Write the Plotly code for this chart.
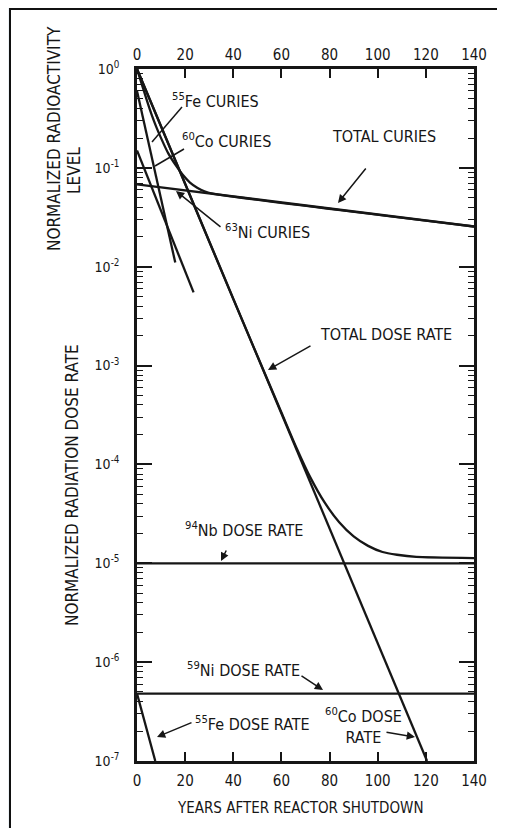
import plotly.graph_objects as go

# ---- data (years after shutdown, normalized level) ----
years_fe55_curies = [0, 15.9]
fe55_curies = [0.6, 0.011]

years_co60_curies = [0, 23.5]
co60_curies = [0.15, 0.0055]

years_ni63_curies = [0, 140]
ni63_curies = [0.068, 0.0255]

years_total_curies = [0, 2, 4, 6, 8, 10, 13, 16, 19, 22, 25, 28, 32, 140]
total_curies = [1.0, 0.70, 0.49, 0.35, 0.26, 0.20, 0.14, 0.107, 0.085, 0.071, 0.063, 0.058, 0.0545, 0.0255]

years_co60_dose = [0, 120.5]
co60_dose = [1.0, 1e-7]

years_total_dose = [0, 20, 40, 60, 66, 72, 78, 84, 90, 96, 102, 108, 116, 140]
total_dose = [1.0, 0.069, 4.7e-3, 3.35e-4, 1.52e-4, 7.4e-5, 4.1e-5, 2.6e-5, 1.87e-5,
              1.5e-5, 1.3e-5, 1.22e-5, 1.16e-5, 1.13e-5]

years_nb94_dose = [0, 140]
nb94_dose = [1.0e-5, 1.0e-5]

years_ni59_dose = [0, 140]
ni59_dose = [4.8e-7, 4.8e-7]

years_fe55_dose = [0, 7.6]
fe55_dose = [4.8e-7, 1e-7]

x_ticks = [0, 20, 40, 60, 80, 100, 120, 140]
y_exponents = [-7, -6, -5, -4, -3, -2, -1, 0]

# ---- layout geometry (reference pixel coords; page body has an 8px margin) ----
W, H = 505, 828
OFF = 8
L, R, T, B = 137 - OFF, 474 - OFF, 69 - OFF, 761 - OFF
FONT = "DejaVu Sans Condensed, Liberation Sans Narrow, Arial Narrow, sans-serif"
INK = "#161616"


def px(x, y):
    x -= OFF
    y -= OFF
    return (x - L) / (R - L), (B - y) / (B - T)


fig = go.Figure()

series = [
    (years_fe55_curies, fe55_curies, "linear"),
    (years_co60_curies, co60_curies, "linear"),
    (years_ni63_curies, ni63_curies, "linear"),
    (years_total_curies, total_curies, "spline"),
    (years_co60_dose, co60_dose, "linear"),
    (years_total_dose, total_dose, "spline"),
    (years_nb94_dose, nb94_dose, "linear"),
    (years_ni59_dose, ni59_dose, "linear"),
    (years_fe55_dose, fe55_dose, "linear"),
]
for xs, ys, shape in series:
    fig.add_trace(go.Scatter(
        x=xs, y=ys, mode="lines",
        line=dict(color=INK, width=2.3, shape=shape, smoothing=0.5),
        showlegend=False, hoverinfo="skip",
    ))

# invisible trace so the top axis is drawn
fig.add_trace(go.Scatter(x=[x_ticks[0], x_ticks[-1]], y=[1, 1], xaxis="x2", mode="lines",
                         line=dict(width=0), opacity=0, showlegend=False, hoverinfo="skip"))

minor_vals = [m * 10.0 ** k for k in range(-7, 0) for m in range(2, 10)]

fig.update_layout(
    width=W, height=H, autosize=False,
    margin=dict(l=L, r=W - R, t=T, b=H - B),
    paper_bgcolor="#edf2f6",
    plot_bgcolor="white",
    font=dict(family=FONT, size=14, color=INK),
    xaxis=dict(
        range=[0, 140], tickvals=x_ticks, ticks="inside", ticklen=9, tickwidth=1.5,
        tickcolor=INK, showline=True, linewidth=2.5, linecolor=INK, mirror="ticks",
        showgrid=False, zeroline=False, tickfont=dict(size=15), ticklabelstandoff=4,
    ),
    xaxis2=dict(
        range=[0, 140], tickvals=x_ticks, overlaying="x", side="top", ticks="",
        showline=False, showgrid=False, zeroline=False, tickfont=dict(size=15),
        anchor="y", ticklabelstandoff=5,
    ),
    yaxis=dict(
        type="log", range=[-7, 0],
        tickvals=[10.0 ** e for e in y_exponents],
        ticktext=["10<sup>%d</sup>" % e for e in y_exponents],
        ticks="inside", ticklen=15, tickwidth=1.5, tickcolor=INK,
        showline=True, linewidth=2.5, linecolor=INK, mirror="ticks",
        showgrid=False, zeroline=False, ticklabelstandoff=12,
        tickfont=dict(size=14),
        minor=dict(tickvals=minor_vals, ticks="inside", ticklen=6, tickwidth=1, tickcolor=INK,
                   showgrid=False),
    ),
)

# white framed sheet
x0, y0 = px(10, 9)
x1, y1 = px(540, 860)
fig.add_shape(type="rect", xref="paper", yref="paper", x0=x0, y0=y1, x1=x1, y1=y0,
              line=dict(color="#111", width=2), fillcolor="white", layer="below")


def text(x, y, s, angle=0, anchor="center", size=16, align="left"):
    ax_, ay_ = px(x, y)
    fig.add_annotation(x=ax_, y=ay_, xref="paper", yref="paper", text=s, showarrow=False,
                       textangle=angle, xanchor=anchor, yanchor="middle",
                       font=dict(family=FONT, size=size, color=INK), align=align)


# axis titles
text(300, 808, "YEARS AFTER REACTOR SHUTDOWN", size=15)
text(54, 139, "NORMALIZED RADIOACTIVITY", angle=-90, size=17)
text(74, 171, "LEVEL", angle=-90, size=17)
text(72, 485, "NORMALIZED RADIATION DOSE RATE", angle=-90, size=17)

# curve labels
text(170, 101, "<sup>55</sup>Fe CURIES", anchor="left")
text(180, 141, "<sup>60</sup>Co CURIES", anchor="left")
text(330, 136, "TOTAL CURIES", anchor="left")
text(223, 231, "<sup>63</sup>Ni CURIES", anchor="left")
text(318, 335, "TOTAL DOSE RATE", anchor="left")
text(183, 529, "<sup>94</sup>Nb DOSE RATE", anchor="left")
text(185, 669, "<sup>59</sup>Ni DOSE RATE", anchor="left")
text(193, 723, "<sup>55</sup>Fe DOSE RATE", anchor="left")
text(323, 726, "<sup>60</sup>Co DOSE<br>RATE", anchor="left", align="center")

# plain leaders
for (a, b, c, d) in [(182, 107, 152, 142), (184, 149, 155, 166)]:
    p0 = px(a, b)
    p1 = px(c, d)
    fig.add_shape(type="line", xref="paper", yref="paper", x0=p0[0], y0=p0[1], x1=p1[0], y1=p1[1],
                  line=dict(color=INK, width=1.5))

# arrow leaders: (tail_x, tail_y, head_x, head_y)
arrows = [
    (222, 228, 176, 191),
    (367, 167, 338, 203),
    (312, 345, 268, 370),
    (227, 549, 221, 561),
    (300, 675, 323, 690),
    (193, 722, 157, 737),
    (385, 732, 415, 737),
]
for tx, ty, hx, hy in arrows:
    hxp, hyp = px(hx, hy)
    fig.add_annotation(x=hxp, y=hyp, xref="paper", yref="paper", text="", showarrow=True,
                       ax=tx - hx, ay=ty - hy, arrowhead=2, arrowsize=1.1, arrowwidth=1.5,
                       arrowcolor=INK)

fig.write_html("out.html")
